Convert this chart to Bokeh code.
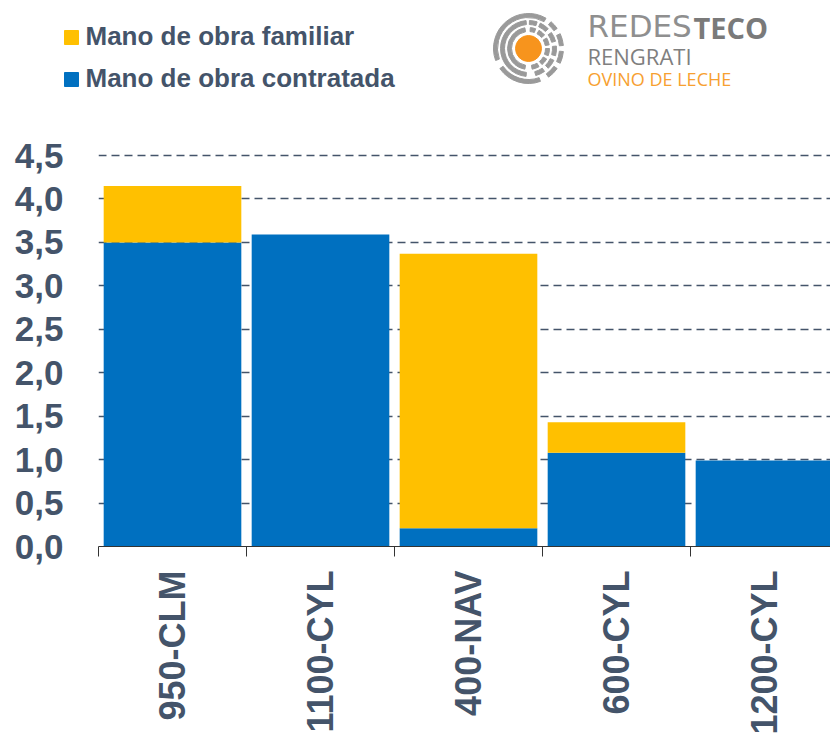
import math
from bokeh.plotting import figure
from bokeh.models import (ColumnDataSource, Range1d, FixedTicker, CustomJSTickFormatter, Label)
from bokeh.layouts import column, row
from bokeh.embed import file_html
from bokeh.resources import INLINE

# ---- data ----
categories = ["950-CLM", "1100-CYL", "400-NAV", "600-CYL", "1200-CYL"]
contratada = [3.50, 3.59, 0.21, 1.08, 0.99]
familiar = [0.65, 0.00, 3.16, 0.35, 0.00]
y_ticks = [0.0, 0.5, 1.0, 1.5, 2.0, 2.5, 3.0, 3.5, 4.0, 4.5]
series_names = ["Mano de obra familiar", "Mano de obra contratada"]

BLUE = "#0070C0"
YELLOW = "#FFC000"
TEXT = "#44546A"
W, H = 830, 738
H1 = 120                            # header height
FL, FR, FB = 98, 830, 546           # frame left/right/bottom in page px
PX_PER_Y = 391 / 4.5
X0 = -0.5
X1 = X0 + (FR - FL) / 148.0
FT = 155                            # page y of 4.5
Y1 = 4.5 + (FT - H1) / PX_PER_Y

# ---- header: legend + logo ----
hdr = figure(width=W, height=H1, x_range=Range1d(0, W), y_range=Range1d(0, H1),
             x_axis_type=None, y_axis_type=None, toolbar_location=None,
             output_backend="svg", min_border=0, outline_line_color=None)
hdr.grid.visible = False

def fy(py):
    return H1 - py

def add_text(x, base, txt, font, size, color, bold=False):
    # place text so that its baseline lands at page y = base
    hdr.add_layout(Label(x=x, y=fy(base - 0.36 * size), text=txt, text_font=font,
                         text_font_style="bold" if bold else "normal",
                         text_font_size=f"{size}px", text_color=color,
                         text_baseline="alphabetic"))

hdr.quad(left=[64], right=[78], top=[fy(30)], bottom=[fy(44)], color=YELLOW)
hdr.quad(left=[64], right=[78], top=[fy(72)], bottom=[fy(86)], color=BLUE)
add_text(85, 45, series_names[0], "Liberation Sans", 26, TEXT, bold=True)
add_text(85, 87, series_names[1], "Liberation Sans", 26, TEXT, bold=True)

cx, cy = 528, fy(48)
gray = "#9A9A9A"
rings = [
    (17, 21, [(100, 260), (280, 300), (310, 330), (340, 360), (10, 30), (40, 60), (70, 85)]),
    (24, 28, [(95, 265), (285, 305), (315, 335), (345, 365), (15, 35), (45, 65), (72, 88)]),
    (31, 35, [(60, 200), (215, 290), (305, 325), (335, 355), (5, 25), (35, 50)]),
]
for r_in, r_out, segs in rings:
    for a0, a1 in segs:
        hdr.annular_wedge(x=[cx], y=[cy], inner_radius=r_in, outer_radius=r_out,
                          start_angle=math.radians(a0), end_angle=math.radians(a1),
                          color=gray)
hdr.circle(x=[cx], y=[cy], radius=13, color="#F7941D")

add_text(587, 37, "REDES", "DejaVu Sans", 31, "#8F8F8F")
add_text(693, 37, "TECO", "Open Sans", 29, "#7A7A7A", bold=True)
add_text(587, 63, "RENGRATI", "Open Sans", 22, "#7F7F7F")
add_text(587, 85, "OVINO DE LECHE", "Open Sans", 18, "#F7A030")

# ---- main chart ----
source = ColumnDataSource(dict(x=list(range(len(categories))), contratada=contratada,
                               familiar=familiar))

p = figure(width=W, height=H - H1, x_range=Range1d(X0, X1), y_range=Range1d(0, Y1),
           toolbar_location=None, output_backend="svg",
           min_border_left=FL, min_border_right=W - FR, min_border_top=0,
           min_border_bottom=H - FB, outline_line_color=None)

p.vbar_stack(["contratada", "familiar"], x="x", width=0.93, fill_color=[BLUE, YELLOW],
             line_color=None, source=source)

p.yaxis.ticker = FixedTicker(ticks=y_ticks)
p.yaxis.formatter = CustomJSTickFormatter(code="return tick.toFixed(1).replace('.', ',');")
p.yaxis.axis_line_color = None
p.yaxis.major_tick_line_color = None
p.yaxis.minor_tick_line_color = None
p.yaxis.major_tick_out = 0
p.yaxis.major_tick_in = 0
p.yaxis.major_label_standoff = 35
p.yaxis.major_label_text_font = "Liberation Sans"
p.yaxis.major_label_text_font_style = "bold"
p.yaxis.major_label_text_font_size = "35px"
p.yaxis.major_label_text_color = TEXT

p.xaxis.ticker = FixedTicker(ticks=list(range(len(categories))),
                             minor_ticks=[i - 0.5 for i in range(len(categories) + 1)])
p.xaxis.formatter = CustomJSTickFormatter(args=dict(labels=categories),
                                          code="return labels[Math.round(tick)] || '';")
p.xaxis.major_label_orientation = math.pi / 2
p.xaxis.axis_line_color = "#333333"
p.xaxis.axis_line_width = 1
p.xaxis.major_tick_line_color = None
p.xaxis.major_tick_out = 0
p.xaxis.major_tick_in = 0
p.xaxis.minor_tick_line_color = "#333333"
p.xaxis.minor_tick_in = 0
p.xaxis.minor_tick_out = 10
p.xaxis.major_label_standoff = 14
p.xaxis.major_label_text_font = "Liberation Sans"
p.xaxis.major_label_text_font_style = "bold"
p.xaxis.major_label_text_font_size = "36px"
p.xaxis.major_label_text_color = TEXT

p.xgrid.grid_line_color = None
p.ygrid.grid_line_color = TEXT
p.ygrid.grid_line_width = 1.5
p.ygrid.grid_line_dash = "8 5"

layout = column(row(hdr), p, spacing=0)
open("out.html", "w").write(file_html(layout, INLINE))
